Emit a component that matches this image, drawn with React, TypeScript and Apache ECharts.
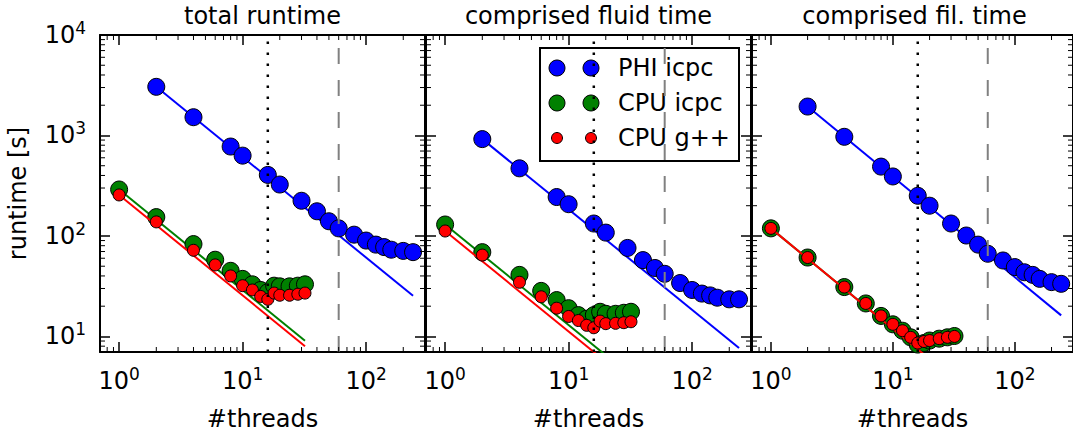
import React, { useEffect, useRef } from "react";
import * as echarts from "echarts";

const FONT = "DejaVu Sans";

const panelTitles = ["total runtime", "comprised fluid time", "comprised fil. time"];

const phiThreads = [2, 4, 8, 10, 16, 20, 30, 40, 50, 60, 80, 100, 120, 140, 160, 200, 240];
const cpuThreads = [1, 2, 4, 6, 8, 10, 12, 14, 16, 18, 20, 24, 28, 32];

// total runtime
const phiTotal = [3050, 1520, 776, 630, 405, 325, 224, 176, 140, 119, 103, 90, 82, 77.5, 73, 71, 69];
const cpuIcpcTotal = [290, 154, 83, 58, 45, 37.4, 33, 29, 27.5, 32, 31.5, 31.5, 32, 33];
const cpuGppTotal = [256, 138, 72, 51.5, 40, 32, 29, 25, 23.4, 27, 25.7, 25.7, 26.3, 27];

// comprised fluid time
const phiFluid = [920, 471, 244, 207, 133, 108, 76, 57.5, 48, 42, 34, 29, 26.7, 25.6, 24.3, 23.4, 23.4];
const cpuIcpcFluid = [130, 69, 41, 28.4, 23, 19.1, 16.3, 15, 16.3, 17.6, 16.8, 16.8, 17.2, 17.6];
const cpuGppFluid = [112, 64.5, 34.6, 24.8, 19.1, 15.8, 14.4, 12.9, 12.2, 14.2, 13.4, 13.5, 13.7, 14];

// comprised fil. time
const phiFil = [1940, 970, 490, 391, 251, 200, 133, 101, 82, 66.5, 57, 49, 43.5, 41, 37.4, 34.7, 33.4];
const cpuIcpcFil = [119, 61, 31, 21.3, 16, 13.2, 11.4, 9.8, 8.3, 8.6, 9.1, 9.5, 9.8, 10.1];
const cpuGppFil = [119, 61, 31, 21.3, 16, 13.2, 11.4, 9.8, 8.6, 8.9, 9.1, 9.5, 9.8, 10];

// ideal scaling reference lines [start, end]
const phiIdeal = [
  [[2, 3050], [240, 25.4]],
  [[2, 920], [240, 7.67]],
  [[2, 1940], [240, 16.2]],
];
const icpcIdeal = [
  [[1, 290], [32, 9.06]],
  [[1, 130], [32, 4.06]],
  [[1, 119], [32, 3.72]],
];
const gppIdeal = [
  [[1, 256], [32, 8.0]],
  [[1, 112], [32, 3.5]],
  [[1, 119], [32, 3.72]],
];

const phiData = [phiTotal, phiFluid, phiFil];
const icpcData = [cpuIcpcTotal, cpuIcpcFluid, cpuIcpcFil];
const gppData = [cpuGppTotal, cpuGppFluid, cpuGppFil];

const dottedX = 16;
const dashedX = 60;

const xMin = 0.7;
const xMax = 300;
const yMin = 7;
const yMax = 10000;

const xMinorTicks = [0.8, 0.9, 2, 3, 4, 5, 6, 7, 8, 9, 20, 30, 40, 50, 60, 70, 80, 90, 200];
const yMinorTicks = [8, 9, 20, 30, 40, 50, 60, 70, 80, 90, 200, 300, 400, 500, 600, 700, 800, 900,
  2000, 3000, 4000, 5000, 6000, 7000, 8000, 9000];

const legendItems = [
  { name: "PHI icpc", color: "#0000ff", size: 16 },
  { name: "CPU icpc", color: "#008000", size: 16 },
  { name: "CPU g++", color: "#ff0000", size: 11 },
];

const gridLefts = [100, 426, 752];
const gridWidth = 325;
const gridTop = 35;
const gridHeight = 325;

function powLabel(v: number) {
  const e = Math.log10(v);
  if (Math.abs(e - Math.round(e)) > 1e-6) return "";
  return "10{s|" + Math.round(e) + "}";
}

const rich = {
  s: { fontSize: 17, fontFamily: FONT, color: "#000", padding: [0, 0, 14, 0] },
};

export default function App() {
  const ref = useRef<HTMLDivElement>(null);

  useEffect(() => {
    if (!ref.current) return;
    const chart = echarts.init(ref.current, undefined, { renderer: "svg" });

    const grids: any[] = [];
    const xAxes: any[] = [];
    const yAxes: any[] = [];
    const series: any[] = [];

    for (let i = 0; i < 3; i++) {
      grids.push({ left: gridLefts[i], top: gridTop, width: gridWidth, height: gridHeight, containLabel: false });
      const common = {
        type: "log",
        logBase: 10,
        gridIndex: i,
        splitLine: { show: false },
        axisLine: { show: true, onZero: false, lineStyle: { color: "#000", width: 2 } },
        axisTick: { show: true, inside: true, length: 10, lineStyle: { color: "#000", width: 1.5 } },
      };
      xAxes.push({
        ...common,
        min: xMin,
        max: xMax,
        position: "bottom",
        axisLabel: {
          show: true,
          formatter: powLabel,
          rich,
          margin: 13,
          color: "#000",
          fontSize: 24,
          fontFamily: FONT,
          showMinLabel: false,
          showMaxLabel: false,
        },
        name: "#threads",
        nameLocation: "middle",
        nameGap: 55,
        nameTextStyle: { fontSize: 24, color: "#000", fontFamily: FONT },
      });
      xAxes.push({
        ...common,
        min: xMin,
        max: xMax,
        position: "top",
        axisLabel: { show: false },
      });
      yAxes.push({
        ...common,
        min: yMin,
        max: yMax,
        position: "left",
        axisLabel: {
          show: i === 0,
          formatter: powLabel,
          rich,
          margin: 14,
          color: "#000",
          fontSize: 24,
          fontFamily: FONT,
          showMinLabel: false,
        },
        name: i === 0 ? "runtime [s]" : "",
        nameLocation: "middle",
        nameGap: 70,
        nameRotate: 90,
        nameTextStyle: { fontSize: 24, color: "#000", fontFamily: FONT },
      });
      yAxes.push({
        ...common,
        min: yMin,
        max: yMax,
        position: "right",
        axisLabel: { show: false },
      });

      const xa = 2 * i;
      const ya = 2 * i;
      const base = { xAxisIndex: xa, yAxisIndex: ya, animation: false, silent: true };

      series.push({
        ...base, type: "line", data: phiIdeal[i], symbol: "none", z: 2,
        lineStyle: { color: "#0000ff", width: 2 },
      });
      series.push({
        ...base, type: "scatter", name: "PHI icpc", z: 3, symbolSize: 17,
        data: phiThreads.map((t, k) => [t, phiData[i][k]]),
        itemStyle: { color: "#0000ff", borderColor: "#000", borderWidth: 1, opacity: 1 },
      });
      series.push({
        ...base, type: "line", data: icpcIdeal[i], symbol: "none", z: 4,
        lineStyle: { color: "#008000", width: 2 },
      });
      series.push({
        ...base, type: "scatter", name: "CPU icpc", z: 5, symbolSize: 17,
        data: cpuThreads.map((t, k) => [t, icpcData[i][k]]),
        itemStyle: { color: "#008000", borderColor: "#000", borderWidth: 1, opacity: 1 },
      });
      series.push({
        ...base, type: "line", data: gppIdeal[i], symbol: "none", z: 6,
        lineStyle: { color: "#ff0000", width: 2 },
      });
      series.push({
        ...base, type: "scatter", name: "CPU g++", z: 7, symbolSize: 12,
        data: cpuThreads.map((t, k) => [t, gppData[i][k]]),
        itemStyle: { color: "#ff0000", borderColor: "#000", borderWidth: 1, opacity: 1 },
      });
      series.push({
        ...base, type: "line", data: [[dottedX, yMin], [dottedX, yMax]], symbol: "none", z: 8,
        lineStyle: { color: "#000", width: 2.5, type: [2.5, 8.5] },
      });
      series.push({
        ...base, type: "line", data: [[dashedX, yMin], [dashedX, yMax]], symbol: "none", z: 8,
        lineStyle: { color: "#808080", width: 2, type: [16, 16] },
      });
      // minor ticks
      const tickData: number[][] = [];
      xMinorTicks.forEach((v) => tickData.push([v, 100, 0]));
      yMinorTicks.forEach((v) => tickData.push([1, v, 1]));
      series.push({
        ...base,
        type: "custom",
        z: 9,
        clip: false,
        data: tickData,
        renderItem: (params: any, api: any) => {
          const cs = params.coordSys;
          const kind = api.value(2);
          const st = { stroke: "#000", lineWidth: 1 };
          if (kind === 0) {
            const px = api.coord([api.value(0), 100])[0];
            return {
              type: "group",
              children: [
                { type: "line", shape: { x1: px, y1: cs.y + cs.height, x2: px, y2: cs.y + cs.height - 5 }, style: st },
                { type: "line", shape: { x1: px, y1: cs.y, x2: px, y2: cs.y + 5 }, style: st },
              ],
            };
          }
          const py = api.coord([1, api.value(1)])[1];
          return {
            type: "group",
            children: [
              { type: "line", shape: { x1: cs.x, y1: py, x2: cs.x + 5, y2: py }, style: st },
              { type: "line", shape: { x1: cs.x + cs.width, y1: py, x2: cs.x + cs.width - 5, y2: py }, style: st },
            ],
          };
        },
      });
    }

    const graphics: any[] = [];
    panelTitles.forEach((t, i) => {
      graphics.push({
        type: "text",
        x: gridLefts[i] + gridWidth / 2,
        y: 16,
        style: {
          text: t, fontSize: 24, fontFamily: FONT, fill: "#000",
          textAlign: "center", textVerticalAlign: "middle",
        },
      });
    });
    // legend box
    const lgX = 540, lgY = 48, lgW = 199, lgH = 113;
    const rowYs = [68, 103, 138];
    const legChildren: any[] = [
      { type: "rect", shape: { x: lgX, y: lgY, width: lgW, height: lgH }, style: { fill: "#fff", stroke: "#000", lineWidth: 2 } },
    ];
    legendItems.forEach((it, k) => {
      [557, 591].forEach((cx) => {
        legChildren.push({
          type: "circle",
          shape: { cx, cy: rowYs[k], r: it.size / 2 },
          style: { fill: it.color, stroke: "#000", lineWidth: 1 },
        });
      });
      legChildren.push({
        type: "text",
        x: 618,
        y: rowYs[k],
        style: { text: it.name, fontSize: 24, fontFamily: FONT, fill: "#000", textVerticalAlign: "middle" },
      });
    });
    graphics.push({ type: "group", z: 100, children: legChildren });

    chart.setOption({
      animation: false,
      backgroundColor: "#fff",
      textStyle: { fontFamily: FONT },
      grid: grids,
      xAxis: xAxes,
      yAxis: yAxes,
      series,
      graphic: graphics,
    });

    return () => chart.dispose();
  }, []);

  return (
    <div
      ref={ref}
      style={{ position: "absolute", left: 0, top: 0, width: 1073, height: 436, background: "#fff" }}
    />
  );
}
